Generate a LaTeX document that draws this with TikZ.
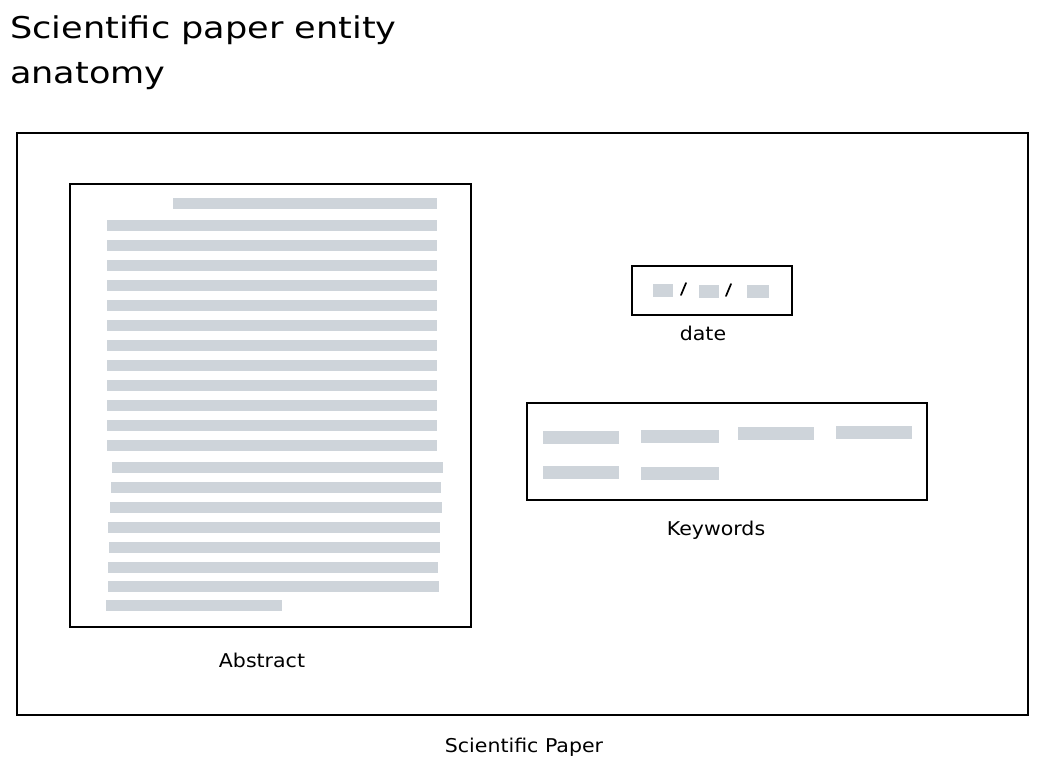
\documentclass[tikz,border=0pt]{standalone}
\usepackage{graphicx}
\usepackage{fontspec}
\setmainfont{DejaVu Sans}
\definecolor{barc}{HTML}{CED4DA}
\newcommand{\wideLbl}[1]{\scalebox{1.08}[1]{#1}}
\newcommand{\wideTtl}[1]{\scalebox{1.17}[1]{#1}}
\begin{document}
\begin{tikzpicture}[x=1pt,y=-1pt,
  frame/.style={draw=black, line width=1.9pt, inner sep=0pt, fill=white},
  bar/.style={fill=barc, inner sep=0pt, minimum height=11pt},
  lbl/.style={inner sep=0pt, anchor=base, font=\fontsize{19}{22}\selectfont},
  ttl/.style={inner sep=0pt, anchor=base west, font=\fontsize{30}{36}\selectfont},
  slash/.style={draw=black, line width=1.7pt, line cap=round}]
\useasboundingbox[fill=white] (0,0) rectangle (1038,768);

% title
\node[ttl] (title1) at (10,39) {\wideTtl{Scientific paper entity}};
\node[ttl] (title2) at (10,83) {\wideTtl{anatomy}};

% outer paper
\node[frame, minimum width=1011pt, minimum height=582pt] (paper) at (522.5,424) {};
\node[lbl] (paperlbl) at (524,752) {\wideLbl{Scientific Paper}};

% abstract
\node[frame, minimum width=401pt, minimum height=443pt] (abstract) at (270.5,405.5) {};
\foreach \a/\b/\y [count=\i] in {
  173/437/203,
  107/437/225, 107/437/245, 107/437/265, 107/437/285, 107/437/305, 107/437/325,
  107/437/345, 107/437/365, 107/437/385, 107/437/405, 107/437/425, 107/437/445,
  112/443/467, 111/441/487, 110/442/507, 108/440/527, 109/440/547, 108/438/567,
  108/439/586, 106/282/605}
  \node[bar, minimum width={\b-\a}] (ab\i) at ({(\a+\b)/2},\y) {};
\node[lbl] (abstractlbl) at (262,667) {\wideLbl{Abstract}};

% date
\node[frame, minimum width=160pt, minimum height=49pt] (date) at (712,290.5) {};
\node[bar, minimum width=20pt, minimum height=13pt] (d1) at (663,290.5) {};
\node[bar, minimum width=20pt, minimum height=13pt] (d2) at (709,291) {};
\node[bar, minimum width=22pt, minimum height=13pt] (d3) at (758,291) {};
\coordinate (s1a) at (681,295); \coordinate (s1b) at (686,283);
\coordinate (s2a) at (726,296); \coordinate (s2b) at (731,284);
\draw[slash] (s1a) -- (s1b);
\draw[slash] (s2a) -- (s2b);
\node[lbl] (datelbl) at (703,340) {\wideLbl{date}};

% keywords
\node[frame, minimum width=400pt, minimum height=97pt] (keywords) at (727,451.5) {};
\node[bar, minimum width=76pt, minimum height=13pt] (k1) at (581,437) {};
\node[bar, minimum width=78pt, minimum height=13pt] (k2) at (680,436) {};
\node[bar, minimum width=76pt, minimum height=13pt] (k3) at (776,433) {};
\node[bar, minimum width=76pt, minimum height=13pt] (k4) at (874,432) {};
\node[bar, minimum width=76pt, minimum height=13pt] (k5) at (581,472) {};
\node[bar, minimum width=78pt, minimum height=13pt] (k6) at (680,473) {};
\node[lbl] (keywordslbl) at (716,535) {\wideLbl{Keywords}};
\end{tikzpicture}
\end{document}
